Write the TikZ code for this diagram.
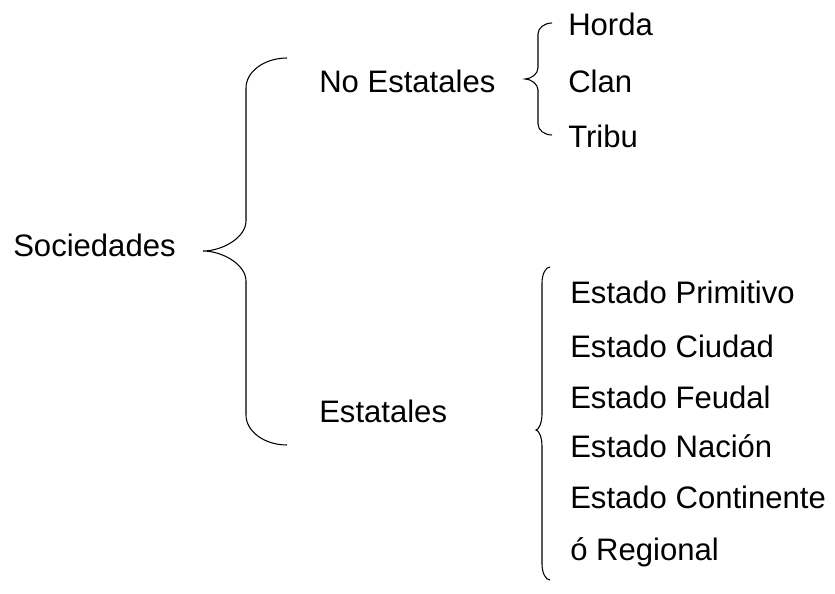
\documentclass[tikz,border=0pt]{standalone}
\usepackage{fontspec}
\setmainfont{Liberation Sans}
\usepackage{tikz}
% llave: end x, line x, tip x, top y, tip y, bottom y, corner
\newcommand\Llave[7]{(#1,#4) .. controls ({#2+0.45*(#1-#2)},#4) and (#2,{#4+0.45*#7}) .. (#2,{#4+#7}) -- (#2,{#5-#7}) .. controls (#2,{#5-0.45*#7}) and ({#3+0.45*(#2-#3)},#5) .. (#3,#5) .. controls ({#3+0.45*(#2-#3)},#5) and (#2,{#5+0.45*#7}) .. (#2,{#5+#7}) -- (#2,{#6-#7}) .. controls (#2,{#6-0.45*#7}) and ({#2+0.45*(#1-#2)},#6) .. (#1,#6)}
\tikzset{txt/.style={anchor=base west,inner sep=0pt,font=\fontsize{23.3}{28}\selectfont}}

\begin{document}
\begin{tikzpicture}[x=0.75pt,y=-0.75pt]
		\useasboundingbox (0,0) rectangle (835,593);
		\node[txt] (soc) at (13,256) {Sociedades};
		\node[txt] (noest) at (319,92) {No Estatales};
		\node[txt] (est) at (319,422) {Estatales};
		\node[txt] (horda) at (568,35) {Horda};
		\node[txt] (clan) at (568,92) {Clan};
		\node[txt] (tribu) at (568,147) {Tribu};
		\node[txt] (prim) at (570,303) {Estado Primitivo};
		\node[txt] (ciudad) at (570,357) {Estado Ciudad};
		\node[txt] (feudal) at (570,408) {Estado Feudal};
		\node[txt] (nacion) at (570,457) {Estado Naci\'on};
		\node[txt] (contin) at (570,508) {Estado Continente};
		\node[txt] (regional) at (570,560) {\'o Regional};
		\draw[line width=0.8pt] \Llave{287}{246}{203}{58}{251}{445}{30};
		\draw[line width=0.8pt] \Llave{552}{538}{525}{23}{79}{135}{11};
		\draw[line width=0.8pt] \Llave{550}{542}{536}{267}{430}{580}{16};
\end{tikzpicture}
\end{document}
